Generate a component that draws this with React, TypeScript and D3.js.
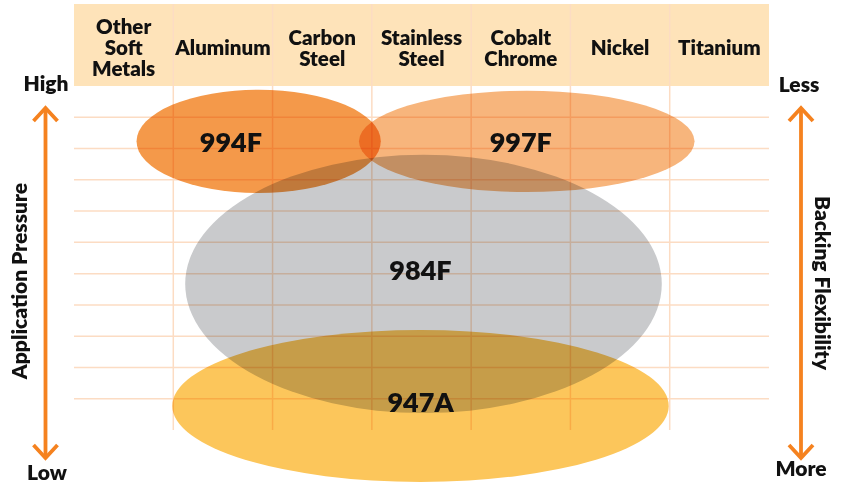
import * as d3 from 'd3';

// Header categories (each entry = lines of the label)
const metals = [
  ['Other', 'Soft', 'Metals'],
  ['Aluminum'],
  ['Carbon', 'Steel'],
  ['Stainless', 'Steel'],
  ['Cobalt', 'Chrome'],
  ['Nickel'],
  ['Titanium'],
];
const pressureRows = 11;

// Product ranges, in column units (x) and pressure-row units (y)
const products = ['994F', '997F', '984F', '947A'];
const centerX = [1.86, 4.56, 3.52, 3.49];
const radiusX = [1.23, 1.69, 2.4, 2.5];
const centerY = [9.23, 9.23, 4.67, 0.77];
const radiusY = [1.65, 1.62, 4.13, 2.43];
const labelX = [1.58, 4.5, 3.49, 3.49];
const labelY = [9.21, 9.21, 5.12, 0.9];

const axisLeft = { title: 'Application Pressure', top: 'High', bottom: 'Low' };
const axisRight = { title: 'Backing Flexibility', top: 'Less', bottom: 'More' };

const fills: Record<string, string> = {
  '994F': '#f4994a',
  '997F': '#f7b57c',
  '984F': '#c9cacc',
  '947A': '#fcc65b',
};

const W = 848;
const H = 487;
const FONT = 'Lato, "Open Sans", sans-serif';
const ORANGE = '#f5821f';
const INK = '#111';

export default function App() {
  const x = d3.scaleLinear().domain([0, metals.length]).range([74, 769]);
  const y = d3.scaleLinear().domain([0, pressureRows]).range([430, 86]);
  const band = d3
    .scaleBand<number>()
    .domain(d3.range(metals.length))
    .range([74, 769]);
  const headerTop = y(pressureRows) - 82;
  const headerMid = (headerTop + y(pressureRows)) / 2 + 3;

  const arrow = (cx: number, y0: number, y1: number) => (
    <g stroke={ORANGE} strokeWidth={3.8} fill="none">
      <line x1={cx} x2={cx} y1={y0 + 2} y2={y1 - 2} />
      <path d={`M${cx - 12},${y0 + 15}L${cx},${y0 + 2}L${cx + 12},${y0 + 15}`} />
      <path d={`M${cx - 12},${y1 - 15}L${cx},${y1 - 2}L${cx + 12},${y1 - 15}`} />
    </g>
  );

  const axisText = (tx: number, ty: number, s: string) => (
    <text x={tx} y={ty} textAnchor="middle" fontSize={21} fontWeight={800} fill={INK}>
      {s}
    </text>
  );

  return (
    <svg
      width={W}
      height={H}
      style={{ position: 'absolute', left: 0, top: 0, background: '#fff' }}
      fontFamily={FONT}
    >
      {/* header band */}
      <rect
        x={x(0)}
        y={headerTop}
        width={x(metals.length) - x(0)}
        height={y(pressureRows) - headerTop}
        fill="#fee3b9"
      />

      {/* grid */}
      <g stroke="#fcdcc3" strokeWidth={1.5}>
        {d3.range(1, pressureRows).map(r => (
          <line key={'h' + r} x1={x(0)} x2={x(metals.length)} y1={y(r)} y2={y(r)} />
        ))}
        {d3.range(1, metals.length).map(c => (
          <line key={'v' + c} x1={x(c)} x2={x(c)} y1={headerTop} y2={y(0)} />
        ))}
      </g>

      {/* header labels */}
      {metals.map((lines, i) => (
        <text key={i} textAnchor="middle" fontSize={20.5} fontWeight={800} fill={INK}>
          {lines.map((l, j) => (
            <tspan
              key={j}
              x={band(i)! + band.bandwidth() / 2}
              y={headerMid + (j - (lines.length - 1) / 2) * 21}
              dy="0.35em"
            >
              {l}
            </tspan>
          ))}
        </text>
      ))}

      {/* product ellipses */}
      {products.map((p, i) => (
        <ellipse
          key={p}
          cx={x(centerX[i])}
          cy={y(centerY[i])}
          rx={x(radiusX[i]) - x(0)}
          ry={y(0) - y(radiusY[i])}
          fill={fills[p]}
          style={{ mixBlendMode: 'multiply' }}
        />
      ))}
      {products.map((p, i) => (
        <text
          key={p}
          x={x(labelX[i])}
          y={y(labelY[i])}
          dy="0.36em"
          textAnchor="middle"
          fontSize={27}
          fontWeight={800}
          fill={INK}
        >
          {p}
        </text>
      ))}

      {/* left axis */}
      {arrow(45.5, 106, 460)}
      {axisText(46, 91, axisLeft.top)}
      {axisText(47, 480, axisLeft.bottom)}
      <text
        transform="translate(20,281) rotate(-90)"
        dy="0.35em"
        textAnchor="middle"
        fontSize={21}
        fontWeight={800}
        fill={INK}
      >
        {axisLeft.title}
      </text>

      {/* right axis */}
      {arrow(801, 106, 460)}
      {axisText(799, 92, axisRight.top)}
      {axisText(801, 476, axisRight.bottom)}
      <text
        transform="translate(822,283) rotate(90)"
        dy="0.35em"
        textAnchor="middle"
        fontSize={21}
        fontWeight={800}
        fill={INK}
      >
        {axisRight.title}
      </text>
    </svg>
  );
}
